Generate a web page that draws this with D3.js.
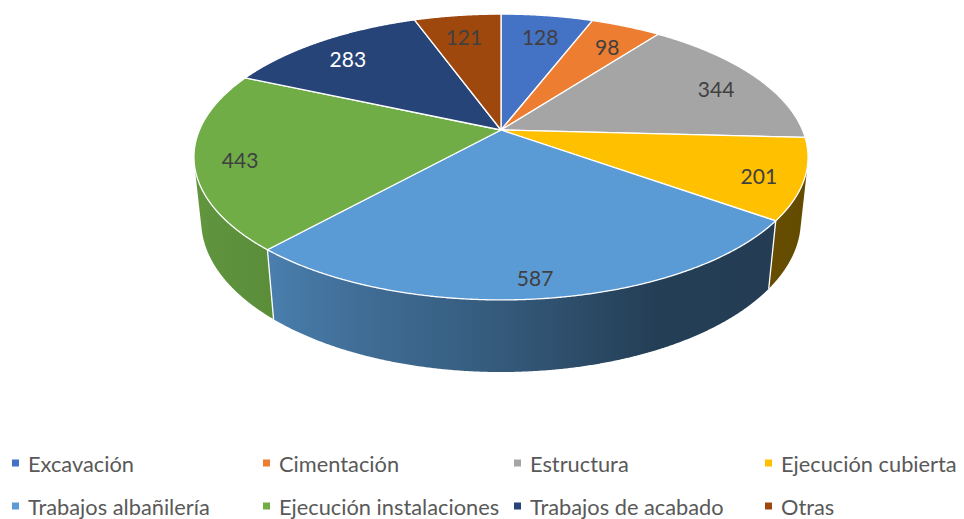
<!DOCTYPE html>
<html><head><meta charset="utf-8">
<script src="https://cdn.jsdelivr.net/npm/d3@7"></script>
<style>body{margin:0;background:#fff} svg{display:block}</style>
</head><body><svg id="c" width="964" height="519"></svg>
<script>
const categories = ["Excavación","Cimentación","Estructura","Ejecución cubierta","Trabajos albañilería","Ejecución instalaciones","Trabajos de acabado","Otras"];
const values = [128,98,344,201,587,443,283,121];
const colors = ["#4472c4","#ed7d31","#a5a5a5","#ffc000","#5b9bd5","#70ad47","#264478","#9e480e"];
const labelColors = ["#404040","#404040","#404040","#404040","#404040","#404040","#ffffff","#404040"];

const svg = d3.select("#c");
const FONT = "Lato, 'Liberation Sans', sans-serif";

// 3D perspective projection of a unit-radius pie
const cx = 501, cy = 130;
const alpha = 27.2 * Math.PI / 180;
const dist = 4.708, focal = 1419.5, thick = 0.239;
function project(theta, z, r = 1) {
  const X = r * Math.sin(theta), Y = r * Math.cos(theta), Z = z;
  const xc = X, yc = Y * Math.sin(alpha) + Z * Math.cos(alpha);
  const zc = dist + Y * Math.cos(alpha) - Z * Math.sin(alpha);
  return [cx + focal * xc / zc, cy - focal * yc / zc];
}
const pie = d3.pie().sort(null).value(d => d)(values);
const step = Math.PI / 720;
function arcPts(a, b, z) {
  const n = Math.max(2, Math.ceil(Math.abs(b - a) / step));
  return d3.range(n + 1).map(i => project(a + (b - a) * i / n, z));
}
const line = d3.line();
const defs = svg.append("defs");

// visible side range
const tv = Math.acos(-(1 / dist) / Math.cos(alpha));
const vis0 = tv, vis1 = 2 * Math.PI - tv;
const shadeScale = d3.scaleLinear().domain([100, 155, 180, 200, 222, 260]).range([0.39, 0.40, 0.58, 0.69, 0.82, 0.88]).clamp(true);
function shade(base, f) { const c = d3.rgb(base); return d3.rgb(c.r * f, c.g * f, c.b * f).formatHex(); }

const sideG = svg.append("g");
const edges = [];
pie.forEach((p, i) => {
  const a = Math.max(p.startAngle, vis0), b = Math.min(p.endAngle, vis1);
  if (b <= a) return;
  const top = arcPts(a, b, 0), bot = arcPts(b, a, -thick);
  const x1 = project(a, 0)[0], x2 = project(b, 0)[0];
  const gid = "sg" + i;
  const g = defs.append("linearGradient").attr("id", gid).attr("gradientUnits", "userSpaceOnUse")
    .attr("x1", x1).attr("x2", x2).attr("y1", 0).attr("y2", 0);
  d3.range(11).forEach(k => {
    const t = a + (b - a) * k / 10;
    const x = project(t, 0)[0];
    g.append("stop").attr("offset", (x - x1) / (x2 - x1))
      .attr("stop-color", shade(colors[i], shadeScale(t * 180 / Math.PI)));
  });
  sideG.append("path").attr("d", line(top.concat(bot)) + "Z").attr("fill", `url(#${gid})`);
  if (p.startAngle > vis0) edges.push(p.startAngle);
});
edges.forEach(t => {
  const p0 = project(t, 0), p1 = project(t, -thick);
  sideG.append("line").attr("x1", p0[0]).attr("y1", p0[1]).attr("x2", p1[0]).attr("y2", p1[1])
    .attr("stroke", "#fff").attr("stroke-width", 1.3);
});

// top faces
const topG = svg.append("g");
pie.forEach((p, i) => {
  const pts = [project(0, 0, 0)].concat(arcPts(p.startAngle, p.endAngle, 0));
  topG.append("path").attr("d", line(pts) + "Z").attr("fill", colors[i])
    .attr("stroke", "#fff").attr("stroke-width", 1.3).attr("stroke-linejoin", "round");
});

// labels: placed between the ellipse centre and the rim at the slice mid-angle
const ec = [cx, (project(0, 0)[1] + project(Math.PI, 0)[1]) / 2];
pie.forEach((p, i) => {
  const m = (p.startAngle + p.endAngle) / 2;
  const rim = project(m, 0);
  const f = 0.85;
  svg.append("text").attr("x", ec[0] + (rim[0] - ec[0]) * f)
    .attr("y", ec[1] + (rim[1] - ec[1]) * f)
    .attr("text-anchor", "middle").attr("dominant-baseline", "central")
    .attr("font-family", FONT).attr("font-size", 21).attr("fill", labelColors[i])
    .text(values[i]);
});

// legend
const leg = svg.append("g");
categories.forEach((c, i) => {
  const col = i % 4, row = Math.floor(i / 4);
  const x = 12 + col * 251, y = 463 + row * 43;
  leg.append("rect").attr("x", x).attr("y", y - 3.5).attr("width", 7).attr("height", 7).attr("fill", colors[i]);
  leg.append("text").attr("x", x + 16).attr("y", y).attr("dominant-baseline", "central")
    .attr("font-family", FONT).attr("font-size", 21.8).attr("fill", "#595959").text(c);
});
</script></body></html>
